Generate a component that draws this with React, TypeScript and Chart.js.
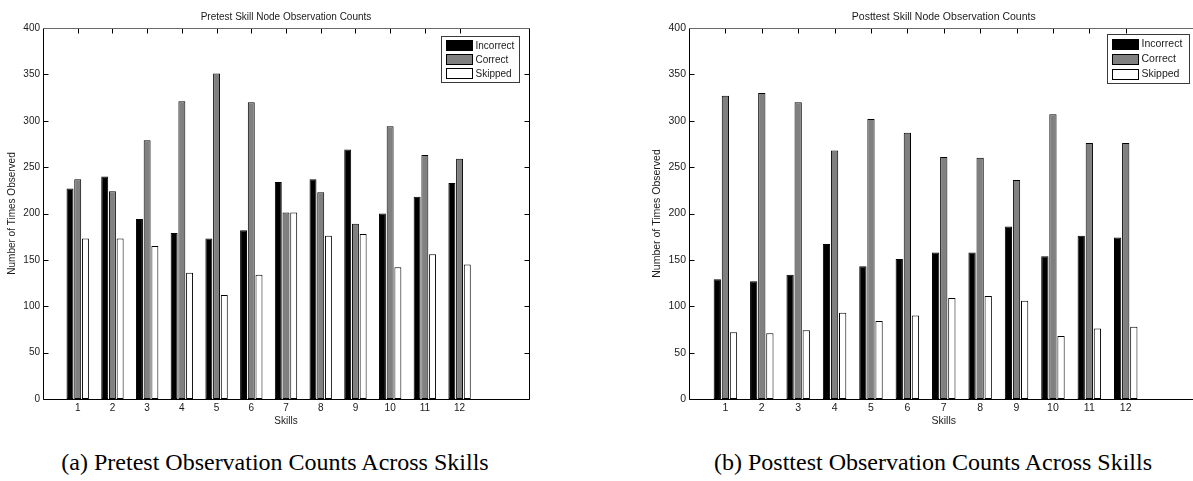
import React, { useEffect, useRef } from 'react';
import { Chart, registerables } from 'chart.js';

Chart.register(...registerables);

// ---- data ----
const skills = ['1', '2', '3', '4', '5', '6', '7', '8', '9', '10', '11', '12'];
const seriesNames = ['Incorrect', 'Correct', 'Skipped'];

const pretestIncorrect = [227, 240, 194, 179, 173, 182, 234, 237, 269, 200, 218, 233];
const pretestCorrect = [237, 224, 279, 321, 351, 320, 201, 223, 189, 294, 263, 259];
const pretestSkipped = [173, 173, 165, 136, 112, 134, 201, 176, 178, 142, 156, 145];

const posttestIncorrect = [129, 127, 134, 167, 143, 151, 158, 158, 186, 154, 176, 174];
const posttestCorrect = [327, 330, 320, 268, 302, 287, 261, 260, 236, 307, 276, 276];
const posttestSkipped = [72, 71, 74, 93, 84, 90, 109, 111, 106, 68, 76, 78];

const xRange = [0, 14];
const yRange = [0, 400];
const yStep = 50;

const pretestTitle = 'Pretest Skill Node Observation Counts';
const posttestTitle = 'Posttest Skill Node Observation Counts';
const xAxisTitle = 'Skills';
const yAxisTitle = 'Number of Times Observed';
const captionA = '(a) Pretest Observation Counts Across Skills';
const captionB = '(b) Posttest Observation Counts Across Skills';

// ---- styles ----
const seriesFill = ['#000000', '#808080', '#ffffff'];
const FONT = "'Liberation Sans', Arial, Helvetica, sans-serif";
const TEXT = '#1a1a1a';

type Geo = {
  width: number;
  height: number;
  fontSize: number;
  yAxisWidth: number;
  yTitlePad: number;
  padRight: number;
  top: number;
  xAxisHeight: number;
  legend: { rightInset: number; topInset: number; w: number; h: number };
};

const frameAndLegend = (title: string, geo: Geo) => ({
  id: 'matlabFrame',
  beforeDatasetsDraw(chart: any) {
    const { ctx, chartArea } = chart;
    const xs = chart.scales.x;
    const ys = chart.scales.y;
    const L = Math.round(chartArea.left) + 0.5;
    const R = Math.round(chartArea.right) + 0.5;
    const T = Math.round(chartArea.top) + 0.5;
    const B = Math.round(chartArea.bottom) + 0.5;
    const tl = 5;
    ctx.save();
    ctx.lineWidth = 1;
    ctx.strokeStyle = '#000';
    ctx.beginPath();
    ys.ticks.forEach((t: any) => {
      const y = Math.round(ys.getPixelForValue(t.value)) + 0.5;
      ctx.moveTo(L, y);
      ctx.lineTo(L + tl, y);
      ctx.moveTo(R, y);
      ctx.lineTo(R - tl, y);
    });
    skills.forEach((_, i) => {
      const x = Math.round(xs.getPixelForValue(i + 1)) + 0.5;
      ctx.moveTo(x, T);
      ctx.lineTo(x, T + tl);
    });
    ctx.stroke();
    ctx.strokeStyle = '#000';
    ctx.beginPath();
    ctx.moveTo(L, T);
    ctx.lineTo(L, B);
    ctx.lineTo(R, B);
    ctx.lineTo(R, T);
    ctx.stroke();
    ctx.strokeStyle = '#6a6a6a';
    ctx.beginPath();
    ctx.moveTo(L, T);
    ctx.lineTo(R, T);
    ctx.stroke();
    ctx.restore();
  },
  afterDatasetsDraw(chart: any) {
    const { ctx, chartArea } = chart;
    const fs = geo.fontSize;
    ctx.save();
    ctx.fillStyle = TEXT;
    ctx.font = `${fs}px ${FONT}`;
    ctx.textAlign = 'center';
    ctx.textBaseline = 'middle';
    ctx.fillText(title, (chartArea.left + chartArea.right) / 2, chartArea.top - 11);
    const lg = geo.legend;
    const bx = Math.round(chartArea.right - lg.rightInset - lg.w) + 0.5;
    const by = Math.round(chartArea.top + lg.topInset) + 0.5;
    ctx.fillStyle = '#fff';
    ctx.fillRect(bx, by, lg.w, lg.h);
    ctx.strokeStyle = '#3a3a3a';
    ctx.lineWidth = 1;
    ctx.strokeRect(bx, by, lg.w, lg.h);
    const rowH = (lg.h - 4) / 3;
    chart.data.datasets.forEach((ds: any, i: number) => {
      const cy = by + 2 + rowH * (i + 0.5);
      const sx = bx + 4;
      const sw = 27;
      const sh = 11;
      ctx.fillStyle = ds.backgroundColor;
      ctx.fillRect(Math.round(sx), Math.round(cy - sh / 2), sw, sh);
      ctx.strokeStyle = '#000';
      ctx.strokeRect(Math.round(sx) + 0.5, Math.round(cy - sh / 2) + 0.5, sw - 1, sh - 1);
      ctx.fillStyle = TEXT;
      ctx.textAlign = 'left';
      ctx.textBaseline = 'middle';
      ctx.font = `${fs}px ${FONT}`;
      ctx.fillText(ds.label, sx + sw + 3, cy + 0.5);
    });
    ctx.restore();
  },
});

function BarChart({ title, series, geo }: { title: string; series: number[][]; geo: Geo }) {
  const ref = useRef<HTMLCanvasElement>(null);
  useEffect(() => {
    if (!ref.current) return;
    const datasets = series.map((vals, s) => ({
      label: seriesNames[s],
      data: skills.map((_, i) => ({ x: i + 1, y: vals[i] })),
      backgroundColor: seriesFill[s],
      borderColor: '#000',
      borderWidth: 1,
      borderSkipped: false,
      categoryPercentage: 0.667,
      barPercentage: 0.9,
    }));
    const font = { family: FONT, size: geo.fontSize };
    const chart = new Chart(ref.current, {
      type: 'bar',
      data: { datasets },
      plugins: [frameAndLegend(title, geo)],
      options: {
        animation: false,
        responsive: false,
        maintainAspectRatio: false,
        layout: { padding: { top: geo.top, right: geo.padRight, bottom: 0, left: 0 } },
        plugins: {
          legend: { display: false },
          title: { display: false },
          tooltip: { enabled: false },
        },
        scales: {
          x: {
            type: 'linear',
            min: xRange[0],
            max: xRange[1],
            offset: false,
            grid: { display: false, drawTicks: false },
            border: { display: false },
            ticks: {
              stepSize: 1,
              autoSkip: false,
              maxRotation: 0,
              padding: 3,
              color: TEXT,
              font,
              callback: (v: any) => skills[Number(v) - 1] ?? '',
            },
            title: {
              display: true,
              text: xAxisTitle,
              color: TEXT,
              font,
              padding: { top: 0, bottom: 13 },
            },
            afterFit: (s: any) => {
              s.height = geo.xAxisHeight;
            },
          },
          y: {
            min: yRange[0],
            max: yRange[1],
            grid: { display: false, drawTicks: false },
            border: { display: false },
            ticks: {
              stepSize: yStep,
              padding: 3,
              color: TEXT,
              font,
            },
            title: {
              display: true,
              text: yAxisTitle,
              color: TEXT,
              font,
              padding: { top: geo.yTitlePad, bottom: 0 },
            },
            afterFit: (s: any) => {
              s.width = geo.yAxisWidth;
            },
          },
        },
      } as any,
    });
    return () => chart.destroy();
  }, [title, series, geo]);
  return <canvas ref={ref} width={geo.width} height={geo.height} style={{ display: 'block', width: geo.width, height: geo.height }} />;
}

const leftGeo: Geo = {
  width: 596,
  height: 440,
  fontSize: 10,
  yAxisWidth: 43,
  yTitlePad: 6,
  padRight: 67,
  top: 28,
  xAxisHeight: 41,
  legend: { rightInset: 10, topInset: 8, w: 78, h: 46 },
};

const rightGeo: Geo = {
  width: 570,
  height: 440,
  fontSize: 10.5,
  yAxisWidth: 49,
  yTitlePad: 11,
  padRight: 11.5,
  top: 28,
  xAxisHeight: 41,
  legend: { rightInset: 9.5, topInset: 6, w: 82, h: 49 },
};

const pretestSeries = [pretestIncorrect, pretestCorrect, pretestSkipped];
const posttestSeries = [posttestIncorrect, posttestCorrect, posttestSkipped];

const captionStyle: React.CSSProperties = {
  position: 'absolute',
  top: 450,
  fontFamily: "'Liberation Serif', 'Times New Roman', serif",
  fontSize: 24,
  lineHeight: '24px',
  color: '#000',
  whiteSpace: 'nowrap',
  transform: 'translateX(-50%)',
};

export default function App() {
  return (
    <div
      style={{
        position: 'absolute',
        left: 0,
        top: 0,
        width: 1193,
        height: 481,
        overflow: 'hidden',
        background: '#fff',
      }}
    >
      <div style={{ position: 'absolute', left: 0, top: 0 }}>
        <BarChart title={pretestTitle} series={pretestSeries} geo={leftGeo} />
      </div>
      <div style={{ position: 'absolute', left: 640, top: 0 }}>
        <BarChart title={posttestTitle} series={posttestSeries} geo={rightGeo} />
      </div>
      <div style={{ ...captionStyle, left: 275 }}>{captionA}</div>
      <div style={{ ...captionStyle, left: 933 }}>{captionB}</div>
    </div>
  );
}
